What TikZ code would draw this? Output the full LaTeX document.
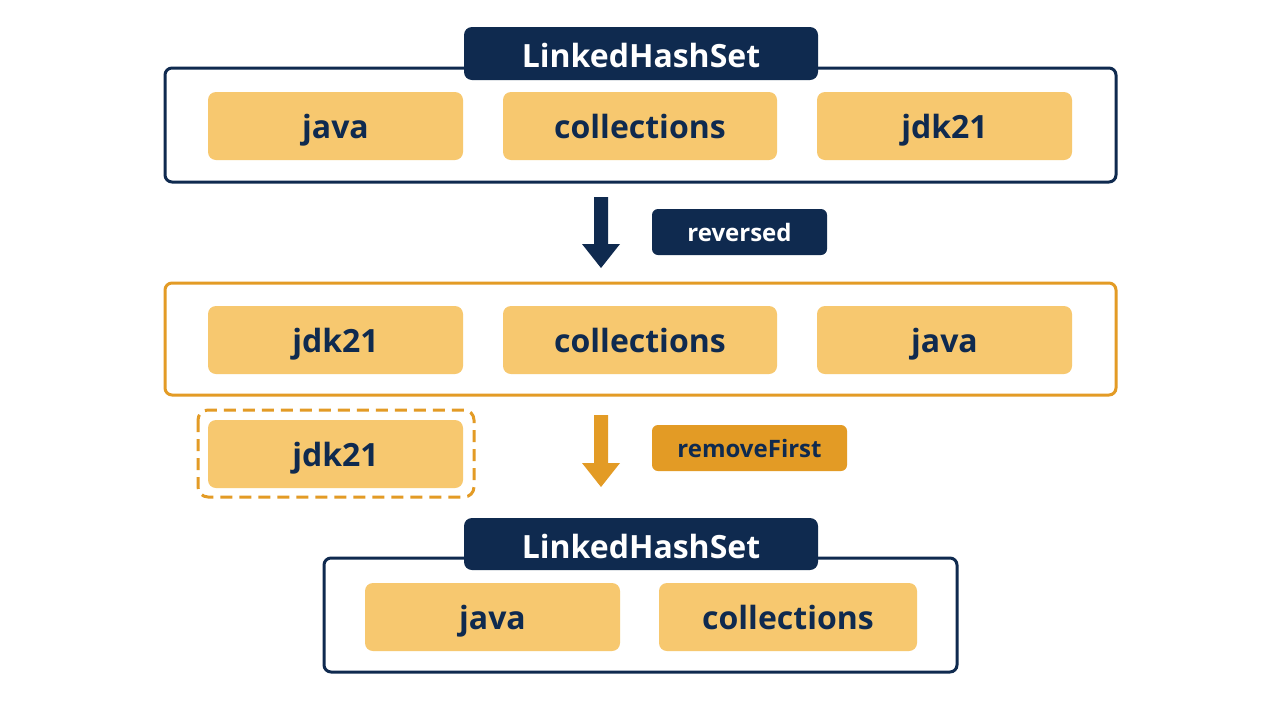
\documentclass[tikz,border=0pt]{standalone}
\usepackage{fontspec}
\setmainfont{Open Sans}[BoldFont={Open Sans Bold}]
\begin{document}
\begin{tikzpicture}[x=1pt,y=-1pt,
  item/.style={fill=it,draw=none,rounded corners=8pt},
  itx/.style={text=nv,font=\fontsize{32}{34}\selectfont\bfseries,text height=22pt,text depth=7pt},
  frame/.style={line width=3pt,rounded corners=7pt,fill=white},
  ttl/.style={fill=nv,rounded corners=8pt},
  ttx/.style={text=white,font=\fontsize{32}{34}\selectfont\bfseries,text height=23pt,text depth=0pt},
  lbx/.style={font=\fontsize{24}{26}\selectfont\bfseries,text height=17pt,text depth=0pt}]
\definecolor{nv}{HTML}{0F2A4F}
\definecolor{it}{HTML}{F7C86F}
\definecolor{or}{HTML}{E39B25}
\useasboundingbox[fill=white] (0,0) rectangle (1280,702);
% top
\draw[frame,draw=nv] (165,68) rectangle (1116,182);
\fill[ttl] (464,27) rectangle (818,80);
\node[ttx] (t1) at (641,56) {LinkedHashSet};
\fill[item] (208,92) rectangle (463,160); \node[itx] (a1) at (335.5,131) {java};
\fill[item] (503,92) rectangle (777,160); \node[itx] (a2) at (640,131) {collections};
\fill[item] (817,92) rectangle (1072,160); \node[itx] (a3) at (944.5,131) {jdk21};
% arrow 1
\fill[nv] (594,197) -- (608,197) -- (608,244) -- (620,244) -- (601,268) -- (582,244) -- (594,244) -- cycle;
\fill[nv,rounded corners=6pt] (652,209) rectangle (827,255);
\node[lbx,text=white] (r) at (739.5,233) {reversed};
% middle
\draw[frame,draw=or] (165,283) rectangle (1116,395);
\fill[item] (208,306) rectangle (463,374); \node[itx] (b1) at (335.5,345) {jdk21};
\fill[item] (503,306) rectangle (777,374); \node[itx] (b2) at (640,345) {collections};
\fill[item] (817,306) rectangle (1072,374); \node[itx] (b3) at (944.5,345) {java};
% removed
\draw[or,line width=3pt,dashed,dash pattern=on 12pt off 7pt,rounded corners=10pt] (198,410) rectangle (474,497);
\fill[item] (208,420) rectangle (463,488); \node[itx] (c1) at (335.5,459) {jdk21};
% arrow 2
\fill[or] (594,415) -- (608,415) -- (608,463) -- (620,463) -- (601,487) -- (582,463) -- (594,463) -- cycle;
\fill[or,rounded corners=6pt] (652,425) rectangle (847,471);
\node[lbx,text=nv] (rf) at (749.5,449) {removeFirst};
% bottom
\draw[frame,draw=nv] (324,558) rectangle (957,672);
\fill[ttl] (464,518) rectangle (818,570);
\node[ttx] (t2) at (641,547) {LinkedHashSet};
\fill[item] (365,583) rectangle (620,651); \node[itx] (d1) at (492.5,622) {java};
\fill[item] (659,583) rectangle (917,651); \node[itx] (d2) at (788,622) {collections};
\end{tikzpicture}
\end{document}
